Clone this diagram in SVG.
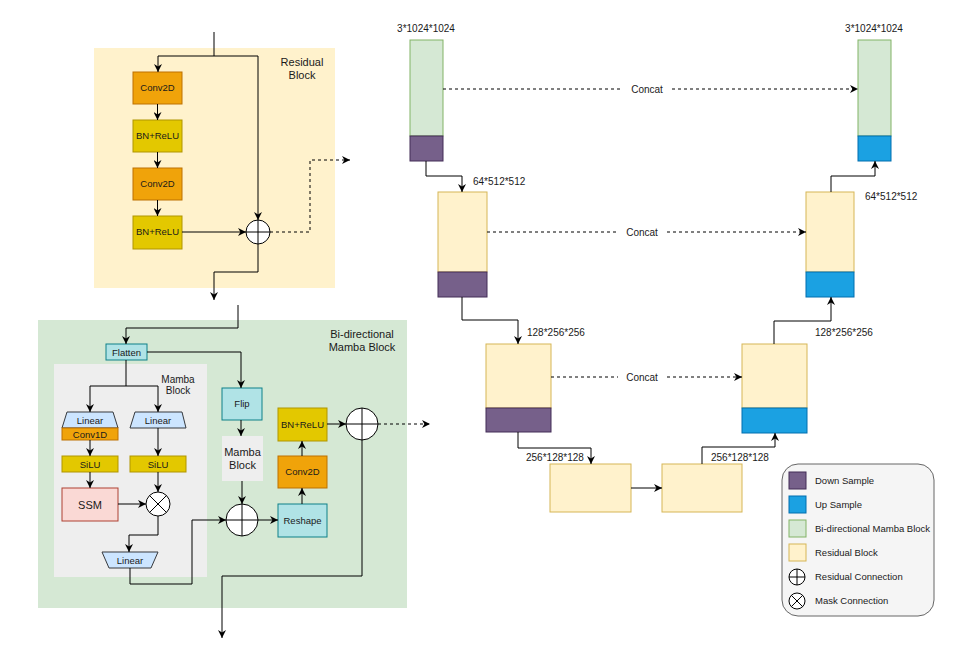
<svg xmlns="http://www.w3.org/2000/svg" width="967" height="654" viewBox="0 0 967 654">
  <defs>
    <marker id="arr" viewBox="0 0 10 10" refX="10" refY="5" markerWidth="8" markerHeight="8" markerUnits="userSpaceOnUse" orient="auto">
      <path d="M0,0 L10,5 L0,10 L3,5 z" fill="#000"/>
    </marker>
    <style>
      text { font-family: "Liberation Sans", Arial, sans-serif; fill: #1a1a1a; }
      .t9 { font-size: 9.5px; }
      .t10 { font-size: 10px; }
      .t11 { font-size: 11px; }
      .mid { text-anchor: middle; }
      .conv { fill: #f0a30a; stroke: #bd7000; }
      .bn { fill: #e3c800; stroke: #b09500; }
      .cyan { fill: #b0e3e6; stroke: #0e8088; }
      .lin { fill: #cce5ff; stroke: #36393d; }
      .ssm { fill: #fad9d5; stroke: #ae4132; }
      .res { fill: #fff2cc; stroke: #d6b656; }
      .mam { fill: #d5e8d4; stroke: #82b366; }
      .down { fill: #76608a; stroke: #432d57; }
      .up { fill: #1ba1e2; stroke: #006eaf; }
      .op { fill: #fff; stroke: #000; }
      .ln { fill: none; stroke: #000; stroke-width: 1; }
      .dash { fill: none; stroke: #000; stroke-width: 1; stroke-dasharray: 3 3; }
    </style>
  </defs>

  <!-- residual block panel -->
  <g id="residual-block">
    <rect x="94" y="48" width="241" height="240" fill="#fff2cc"/>
    <text class="t11 mid" x="302" y="66">Residual</text>
    <text class="t11 mid" x="302" y="79">Block</text>
  </g>
  <g id="rb-conv1"><rect class="conv" x="133" y="72" width="49" height="32"/><text class="t9 mid" x="157.5" y="91">Conv2D</text></g>
  <g id="rb-bn1"><rect class="bn" x="133" y="120" width="49" height="32"/><text class="t9 mid" x="157.5" y="139">BN+ReLU</text></g>
  <g id="rb-conv2"><rect class="conv" x="133" y="168" width="49" height="32"/><text class="t9 mid" x="157.5" y="187">Conv2D</text></g>
  <g id="rb-bn2"><rect class="bn" x="133" y="216" width="49" height="33"/><text class="t9 mid" x="157.5" y="235">BN+ReLU</text></g>
  <g id="rb-add"><circle class="op" cx="258" cy="232" r="12"/><path class="ln" d="M246,232 H270 M258,220 V244"/></g>

  <!-- bi-directional mamba panel -->
  <g id="bimamba-block">
    <rect x="38" y="320" width="369" height="288" fill="#d5e8d4"/>
    <text class="t11 mid" x="362" y="338">Bi-directional</text>
    <text class="t11 mid" x="362" y="351">Mamba Block</text>
  </g>
  <g id="mamba-inner">
    <rect x="54" y="364" width="153" height="213" fill="#eeeeee"/>
    <text class="t10 mid" x="178" y="383">Mamba</text>
    <text class="t10 mid" x="178" y="394">Block</text>
  </g>
  <g id="flatten"><rect class="cyan" x="106" y="344" width="41" height="16"/><text class="t9 mid" x="126.5" y="355.5">Flatten</text></g>
  <g id="linear-a">
    <path class="lin" d="M67,412 H113 L118,428 H62 Z"/>
    <text class="t9 mid" x="90" y="423.5">Linear</text>
  </g>
  <g id="conv1d"><rect class="conv" x="62" y="428" width="56" height="12"/><text class="t9 mid" x="90" y="437.5">Conv1D</text></g>
  <g id="linear-b">
    <path class="lin" d="M135,412 H182 L186,428 H130 Z"/>
    <text class="t9 mid" x="158" y="423.5">Linear</text>
  </g>
  <g id="silu-a"><rect class="bn" x="62" y="456" width="56" height="16"/><text class="t9 mid" x="90" y="467.5">SiLU</text></g>
  <g id="silu-b"><rect class="bn" x="130" y="456" width="56" height="16"/><text class="t9 mid" x="158" y="467.5">SiLU</text></g>
  <g id="ssm"><rect class="ssm" x="62" y="488" width="56" height="33"/><text class="t11 mid" x="90" y="508.5">SSM</text></g>
  <g id="mask-mul"><circle class="op" cx="158" cy="504" r="12"/><path class="ln" d="M149.5,495.5 L166.5,512.5 M166.5,495.5 L149.5,512.5"/></g>
  <g id="linear-out">
    <path class="lin" d="M102,552 H158 L151,568 H109 Z"/>
    <text class="t9 mid" x="130" y="563.5">Linear</text>
  </g>
  <g id="flip"><rect class="cyan" x="222" y="388" width="40" height="32"/><text class="t9 mid" x="242" y="407">Flip</text></g>
  <g id="mamba-rev">
    <rect x="222" y="436" width="41" height="45" fill="#eeeeee"/>
    <text class="t11 mid" x="242.5" y="456">Mamba</text>
    <text class="t11 mid" x="242.5" y="469">Block</text>
  </g>
  <g id="bm-add1"><circle class="op" cx="242" cy="520" r="16"/><path class="ln" d="M226,520 H258 M242,504 V536"/></g>
  <g id="reshape"><rect class="cyan" x="278" y="504" width="49" height="33"/><text class="t9 mid" x="302.5" y="524">Reshape</text></g>
  <g id="bm-conv"><rect class="conv" x="278" y="456" width="49" height="32"/><text class="t9 mid" x="302.5" y="475">Conv2D</text></g>
  <g id="bm-bn"><rect class="bn" x="278" y="408" width="49" height="33"/><text class="t9 mid" x="302.5" y="428">BN+ReLU</text></g>
  <g id="bm-add2"><circle class="op" cx="362" cy="424" r="16"/><path class="ln" d="M346,424 H378 M362,408 V440"/></g>

  <!-- encoder / decoder stages -->
  <g id="enc1"><rect class="mam" x="410" y="40" width="33" height="96"/><rect class="down" x="410" y="136" width="33" height="25"/></g>
  <g id="enc2"><rect class="res" x="438" y="192" width="49" height="80"/><rect class="down" x="438" y="272" width="49" height="25"/></g>
  <g id="enc3"><rect class="res" x="486" y="344" width="65" height="64"/><rect class="down" x="486" y="408" width="65" height="24"/></g>
  <g id="bottleneck1"><rect class="res" x="550" y="464" width="81" height="48"/></g>
  <g id="bottleneck2"><rect class="res" x="662" y="464" width="80" height="48"/></g>
  <g id="dec3"><rect class="res" x="742" y="344" width="65" height="64"/><rect class="up" x="742" y="408" width="65" height="25"/></g>
  <g id="dec2"><rect class="res" x="806" y="192" width="48" height="80"/><rect class="up" x="806" y="272" width="48" height="25"/></g>
  <g id="dec1"><rect class="mam" x="858" y="40" width="33" height="96"/><rect class="up" x="858" y="136" width="33" height="25"/></g>

  <g id="dims">
    <text class="t10 mid" x="426" y="32">3*1024*1024</text>
    <text class="t10 mid" x="874" y="32">3*1024*1024</text>
    <text class="t10" x="473" y="185">64*512*512</text>
    <text class="t10" x="865" y="200">64*512*512</text>
    <text class="t10" x="527" y="336">128*256*256</text>
    <text class="t10" x="815" y="336">128*256*256</text>
    <text class="t10" x="526" y="461">256*128*128</text>
    <text class="t10" x="711" y="461">256*128*128</text>
  </g>

  <!-- legend -->
  <g id="legend">
    <rect x="782" y="464" width="152" height="152" rx="16" fill="#f5f5f5" stroke="#666666"/>
    <rect class="down" x="789" y="472" width="17" height="17"/>
    <rect class="up" x="789" y="496" width="17" height="17"/>
    <rect class="mam" x="789" y="520" width="17" height="17"/>
    <rect class="res" x="789" y="544" width="17" height="17"/>
    <circle class="op" cx="797" cy="577" r="8"/><path class="ln" d="M789,577 H805 M797,569 V585"/>
    <circle class="op" cx="797" cy="601" r="8"/><path class="ln" d="M791.3,595.3 L802.7,606.7 M802.7,595.3 L791.3,606.7"/>
    <text class="t9" x="815" y="484">Down Sample</text>
    <text class="t9" x="815" y="508">Up Sample</text>
    <text class="t9" x="815" y="532">Bi-directional Mamba Block</text>
    <text class="t9" x="815" y="556">Residual Block</text>
    <text class="t9" x="815" y="580">Residual Connection</text>
    <text class="t9" x="815" y="604">Mask Connection</text>
  </g>

  <g id="connectors">
    <!-- residual block -->
    <path class="ln" d="M214,32 V56"/>
    <path class="ln" d="M214,56 H158 V72" marker-end="url(#arr)"/>
    <path class="ln" d="M214,56 H258 V220" marker-end="url(#arr)"/>
    <path class="ln" d="M157.5,104 V120" marker-end="url(#arr)"/>
    <path class="ln" d="M157.5,152 V168" marker-end="url(#arr)"/>
    <path class="ln" d="M157.5,200 V216" marker-end="url(#arr)"/>
    <path class="ln" d="M182,232 H246" marker-end="url(#arr)"/>
    <path class="dash" d="M270,232 H310 V160 H350" marker-end="url(#arr)"/>
    <path class="ln" d="M258,244 V272 H214 V300" marker-end="url(#arr)"/>

    <!-- bi-directional mamba block -->
    <path class="ln" d="M238,305 V328 H126 V344" marker-end="url(#arr)"/>
    <path class="ln" d="M126,360 V386 H90 V412" marker-end="url(#arr)"/>
    <path class="ln" d="M126,386 H158 V412" marker-end="url(#arr)"/>
    <path class="ln" d="M147,352 H241 V388" marker-end="url(#arr)"/>
    <path class="ln" d="M90,440 V456" marker-end="url(#arr)"/>
    <path class="ln" d="M158,428 V456" marker-end="url(#arr)"/>
    <path class="ln" d="M90,472 V488" marker-end="url(#arr)"/>
    <path class="ln" d="M158,472 V492" marker-end="url(#arr)"/>
    <path class="ln" d="M118,504 H146" marker-end="url(#arr)"/>
    <path class="ln" d="M158,516 V535 H129 V552" marker-end="url(#arr)"/>
    <path class="ln" d="M130,568 V584 H192 V520 H226" marker-end="url(#arr)"/>
    <path class="ln" d="M241,420 V436" marker-end="url(#arr)"/>
    <path class="ln" d="M242,481 V504" marker-end="url(#arr)"/>
    <path class="ln" d="M258,520 H278" marker-end="url(#arr)"/>
    <path class="ln" d="M302,504 V488" marker-end="url(#arr)"/>
    <path class="ln" d="M302,456 V441" marker-end="url(#arr)"/>
    <path class="ln" d="M327,424 H346" marker-end="url(#arr)"/>
    <path class="dash" d="M378,424 H430" marker-end="url(#arr)"/>
    <path class="ln" d="M362,440 V576 H222 V638" marker-end="url(#arr)"/>

    <!-- encoder path -->
    <path class="ln" d="M426,161 V176 H462 V192" marker-end="url(#arr)"/>
    <path class="ln" d="M462,297 V320 H518 V344" marker-end="url(#arr)"/>
    <path class="ln" d="M518,432 V448 H591 V464" marker-end="url(#arr)"/>
    <path class="ln" d="M631,488 H662" marker-end="url(#arr)"/>
    <!-- decoder path -->
    <path class="ln" d="M702,464 V447 H775 V433" marker-end="url(#arr)"/>
    <path class="ln" d="M774,344 V321 H831 V297" marker-end="url(#arr)"/>
    <path class="ln" d="M831,192 V176 H875 V161" marker-end="url(#arr)"/>

    <!-- skip connections -->
    <path class="dash" d="M443,89 H623"/>
    <path class="dash" d="M672,89 H858" marker-end="url(#arr)"/>
    <text class="t10 mid" x="647" y="92.5">Concat</text>
    <path class="dash" d="M487,232 H618"/>
    <path class="dash" d="M667,232 H806" marker-end="url(#arr)"/>
    <text class="t10 mid" x="642" y="235.5">Concat</text>
    <path class="dash" d="M551,377 H618"/>
    <path class="dash" d="M667,377 H742" marker-end="url(#arr)"/>
    <text class="t10 mid" x="642" y="380.5">Concat</text>
  </g>
</svg>
